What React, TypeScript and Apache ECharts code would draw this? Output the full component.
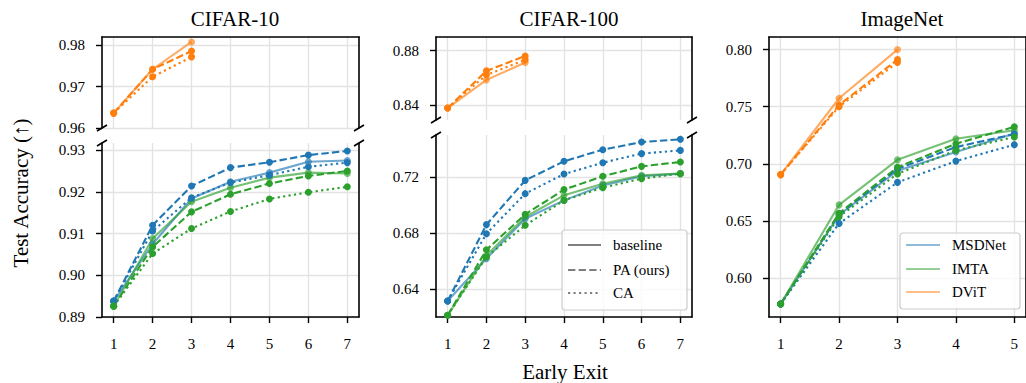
import React, { useEffect, useRef } from "react";
import * as echarts from "echarts";

const FONT = "Liberation Serif, DejaVu Serif, serif";
const BLUE = "#1f77b4";
const GREEN = "#2ca02c";
const ORANGE = "#ff7f0e";

// ---------- data ----------
const exits7 = [1, 2, 3, 4, 5, 6, 7];
const exits5 = [1, 2, 3, 4, 5];
const exits3 = [1, 2, 3];

// CIFAR-10
const c10MsdBase = [0.8938, 0.9075, 0.9184, 0.9224, 0.9246, 0.9272, 0.9275];
const c10MsdPA = [0.8938, 0.912, 0.9214, 0.9258, 0.9271, 0.9288, 0.9298];
const c10MsdCA = [0.8938, 0.9106, 0.9186, 0.9222, 0.924, 0.926, 0.927];
const c10ImtaBase = [0.8926, 0.9088, 0.9176, 0.921, 0.9234, 0.9246, 0.9244];
const c10ImtaPA = [0.8926, 0.9068, 0.9152, 0.9194, 0.922, 0.9238, 0.925];
const c10ImtaCA = [0.8926, 0.9052, 0.9112, 0.9153, 0.9183, 0.9199, 0.9212];
const c10DvitBase = [0.9636, 0.9742, 0.9808];
const c10DvitPA = [0.9636, 0.9742, 0.9786];
const c10DvitCA = [0.9636, 0.9724, 0.9772];

// CIFAR-100
const c100MsdBase = [0.6314, 0.6617, 0.6902, 0.7033, 0.714, 0.7205, 0.7224];
const c100MsdPA = [0.6314, 0.686, 0.7176, 0.7312, 0.7395, 0.745, 0.7469];
const c100MsdCA = [0.6314, 0.6795, 0.7081, 0.7221, 0.7302, 0.7367, 0.739];
const c100ImtaBase = [0.6212, 0.664, 0.6914, 0.7069, 0.7152, 0.7212, 0.7224];
const c100ImtaPA = [0.6212, 0.668, 0.6933, 0.711, 0.7205, 0.7276, 0.7307];
const c100ImtaCA = [0.6212, 0.6629, 0.6855, 0.7033, 0.7124, 0.7188, 0.7224];
const c100DvitBase = [0.8378, 0.8585, 0.8712];
const c100DvitPA = [0.8378, 0.8651, 0.8761];
const c100DvitCA = [0.8378, 0.8622, 0.8732];

// ImageNet
const inMsdBase = [0.5774, 0.6553, 0.694, 0.7103, 0.7265];
const inMsdPA = [0.5774, 0.656, 0.6956, 0.7147, 0.726];
const inMsdCA = [0.5774, 0.6479, 0.6838, 0.7024, 0.7168];
const inImtaBase = [0.5774, 0.6641, 0.7035, 0.722, 0.7294];
const inImtaPA = [0.5774, 0.6568, 0.697, 0.7176, 0.7324];
const inImtaCA = [0.5774, 0.6538, 0.6912, 0.7118, 0.7235];
const inDvitBase = [0.6906, 0.7574, 0.8];
const inDvitPA = [0.6906, 0.7515, 0.7912];
const inDvitCA = [0.6906, 0.75, 0.7888];

// axis ticks / ranges
const titles = ["CIFAR-10", "CIFAR-100", "ImageNet"];
const methodNames = ["baseline", "PA (ours)", "CA"];
const modelNames = ["MSDNet", "IMTA", "DViT"];
const yTicks = [
  [0.96, 0.97, 0.98],
  [0.89, 0.9, 0.91, 0.92, 0.93],
  [0.84, 0.88],
  [0.64, 0.68, 0.72],
  [0.6, 0.65, 0.7, 0.75, 0.8],
];
const yRanges = [
  [0.96, 0.982],
  [0.89, 0.9317],
  [0.829, 0.89],
  [0.62, 0.75],
  [0.566, 0.811],
];
const xRanges = [
  [0.7, 7.3],
  [0.7, 7.3],
  [0.7, 7.3],
  [0.7, 7.3],
  [0.8, 5.2],
];
const xTicksPerGrid = [exits7, exits7, exits7, exits7, exits5];

// ---------- layout ----------
const GRIDS = [
  { left: 102, top: 37, width: 257, height: 91 },
  { left: 102, top: 143, width: 257, height: 174 },
  { left: 436, top: 37, width: 256, height: 83 },
  { left: 436, top: 135, width: 256, height: 182 },
  { left: 769, top: 37, width: 258, height: 280 },
];
const isTopBroken = [false, true, false, true, false];
const isBottomBroken = [true, false, true, false, false];

const DASHES: any[] = ["solid", [7.4, 3.2], [2.2, 3.3]];
const LEGEND_DASH: any[] = [undefined, [7.4, 3.2], [2.2, 3.3]];

function mkSeries(name: string, xs: number[], ys: number[], color: string, method: number, g: number) {
  const base = method === 0;
  return {
    type: "line",
    name,
    xAxisIndex: g,
    yAxisIndex: g,
    data: xs.map((x, i) => [x, ys[i]]),
    symbol: "circle",
    symbolSize: 7,
    showSymbol: true,
    lineStyle: { color, width: 2.1, type: DASHES[method], opacity: base ? 0.65 : 1 },
    itemStyle: { color, opacity: base ? 0.65 : 1 },
    emphasis: { disabled: true },
    z: base ? 2 : 3,
  };
}

function buildOption() {
  const series: any[] = [];
  const c10 = [
    [c10MsdBase, c10MsdPA, c10MsdCA],
    [c10ImtaBase, c10ImtaPA, c10ImtaCA],
    [c10DvitBase, c10DvitPA, c10DvitCA],
  ];
  const c100 = [
    [c100MsdBase, c100MsdPA, c100MsdCA],
    [c100ImtaBase, c100ImtaPA, c100ImtaCA],
    [c100DvitBase, c100DvitPA, c100DvitCA],
  ];
  const inet = [
    [inMsdBase, inMsdPA, inMsdCA],
    [inImtaBase, inImtaPA, inImtaCA],
    [inDvitBase, inDvitPA, inDvitCA],
  ];
  const colors = [BLUE, GREEN, ORANGE];
  const sets = [
    { d: c10, xs: exits7, gMain: 1, gTop: 0 },
    { d: c100, xs: exits7, gMain: 3, gTop: 2 },
    { d: inet, xs: exits5, gMain: 4, gTop: 4 },
  ];
  sets.forEach((s, si) => {
    for (let m = 0; m < 3; m++) {
      for (let meth = 0; meth < 3; meth++) {
        const ys = s.d[m][meth];
        const xs = m === 2 ? exits3 : s.xs;
        const g = m === 2 ? s.gTop : s.gMain;
        series.push(mkSeries(`${titles[si]} ${modelNames[m]} ${methodNames[meth]}`, xs, ys, colors[m], meth, g));
      }
    }
  });

  const axisLineStyle = { color: "#000", width: 1.6 };
  const xAxis: any[] = [];
  const yAxis: any[] = [];
  GRIDS.forEach((_, g) => {
    const showLabels = !isBottomBroken[g];
    xAxis.push({
      type: "value",
      gridIndex: g,
      position: "bottom",
      min: xRanges[g][0],
      max: xRanges[g][1],
      axisLine: { show: !isBottomBroken[g], onZero: false, lineStyle: axisLineStyle },
      axisTick: { show: showLabels, length: 6, lineStyle: { color: "#000", width: 1.4 }, customValues: xTicksPerGrid[g] },
      axisLabel: {
        show: showLabels,
        customValues: xTicksPerGrid[g],
        fontFamily: FONT,
        fontSize: 15,
        color: "#000",
        margin: 19,
      },
      splitLine: { show: true, lineStyle: { color: "#e3e3e3", width: 1.4 } },
    });
    yAxis.push({
      type: "value",
      gridIndex: g,
      position: "left",
      min: yRanges[g][0],
      max: yRanges[g][1],
      axisLine: { show: true, onZero: false, lineStyle: axisLineStyle },
      axisTick: { show: true, length: 6, lineStyle: { color: "#000", width: 1.4 }, customValues: yTicks[g] },
      axisLabel: {
        customValues: yTicks[g],
        formatter: (v: number) => v.toFixed(2),
        fontFamily: FONT,
        fontSize: 15,
        color: "#000",
        margin: 17,
      },
      splitLine: { show: true, lineStyle: { color: "#e3e3e3", width: 1.4 } },
    });
  });
  GRIDS.forEach((_, g) => {
    if (!isTopBroken[g]) {
      xAxis.push({
        type: "value",
        gridIndex: g,
        position: "top",
        min: xRanges[g][0],
        max: xRanges[g][1],
        axisLine: { show: true, onZero: false, lineStyle: axisLineStyle },
        axisTick: { show: false },
        axisLabel: { show: false },
        splitLine: { show: false },
      });
    }
    yAxis.push({
      type: "value",
      gridIndex: g,
      position: "right",
      min: yRanges[g][0],
      max: yRanges[g][1],
      axisLine: { show: true, onZero: false, lineStyle: axisLineStyle },
      axisTick: { show: false },
      axisLabel: { show: false },
      splitLine: { show: false },
    });
  });

  const graphic: any[] = [];
  // break marks
  [[0, 1], [2, 3]].forEach(([gt, gb]) => {
    const top = GRIDS[gt];
    const bot = GRIDS[gb];
    const yA = top.top + top.height;
    const yB = bot.top;
    [top.left, top.left + top.width].forEach((x) => {
      [yA, yB].forEach((y) => {
        graphic.push({
          type: "line",
          shape: { x1: x - 5, y1: y + 3, x2: x + 5, y2: y - 3 },
          style: { stroke: "#000", lineWidth: 1.6 },
          z: 10,
        });
      });
    });
  });
  // y axis name
  graphic.push({
    type: "text",
    x: 21,
    y: 193,
    rotation: Math.PI / 2,
    style: {
      text: "Test Accuracy (\u2191)",
      fontFamily: FONT,
      fontSize: 21,
      fill: "#000",
      align: "center",
      verticalAlign: "middle",
    },
  });
  // x axis name
  graphic.push({
    type: "text",
    x: 565,
    y: 372,
    style: {
      text: "Early Exit",
      fontFamily: FONT,
      fontSize: 21,
      fill: "#000",
      align: "center",
      verticalAlign: "middle",
    },
  });
  // legend 1: line styles
  graphic.push({
    type: "rect",
    shape: { x: 562, y: 230, width: 125, height: 80, r: 3 },
    style: { fill: "rgba(255,255,255,0.8)", stroke: "#cccccc", lineWidth: 1.2 },
    z: 20,
  });
  const l1y = [245, 270, 293];
  methodNames.forEach((nm, i) => {
    graphic.push({
      type: "line",
      shape: { x1: 568, y1: l1y[i], x2: 601, y2: l1y[i] },
      style: { stroke: "#7f7f7f", lineWidth: 2, lineDash: LEGEND_DASH[i] },
      z: 21,
    });
    graphic.push({
      type: "text",
      x: 613,
      y: l1y[i],
      style: { text: nm, fontFamily: FONT, fontSize: 15, fill: "#000", verticalAlign: "middle" },
      z: 21,
    });
  });
  // legend 2: models
  graphic.push({
    type: "rect",
    shape: { x: 900, y: 233, width: 120, height: 76, r: 3 },
    style: { fill: "rgba(255,255,255,0.8)", stroke: "#cccccc", lineWidth: 1.2 },
    z: 20,
  });
  const l2y = [245, 269, 292];
  const lc = [BLUE, GREEN, ORANGE];
  modelNames.forEach((nm, i) => {
    graphic.push({
      type: "line",
      shape: { x1: 906, y1: l2y[i], x2: 940, y2: l2y[i] },
      style: { stroke: lc[i], lineWidth: 2.2, opacity: 0.5 },
      z: 21,
    });
    graphic.push({
      type: "text",
      x: 952,
      y: l2y[i],
      style: { text: nm, fontFamily: FONT, fontSize: 15, fill: "#000", verticalAlign: "middle" },
      z: 21,
    });
  });

  const titleCenters = [230, 564, 897];
  const title = titles.map((t, i) => ({
    text: t,
    left: titleCenters[i],
    top: 3,
    textAlign: "center",
    textStyle: { fontFamily: FONT, fontSize: 21, fontWeight: "normal", color: "#000" },
  }));

  return {
    animation: false,
    backgroundColor: "#fff",
    title,
    grid: GRIDS.map((g) => ({ ...g, containLabel: false })),
    xAxis,
    yAxis,
    series,
    graphic,
  };
}

export default function App() {
  const ref = useRef<HTMLDivElement>(null);
  useEffect(() => {
    const chart = echarts.init(ref.current!, null, { renderer: "svg" });
    chart.setOption(buildOption() as any);
    return () => chart.dispose();
  }, []);
  return (
    <div
      ref={ref}
      style={{ position: "absolute", left: 0, top: 0, width: 1026, height: 383 }}
    />
  );
}
